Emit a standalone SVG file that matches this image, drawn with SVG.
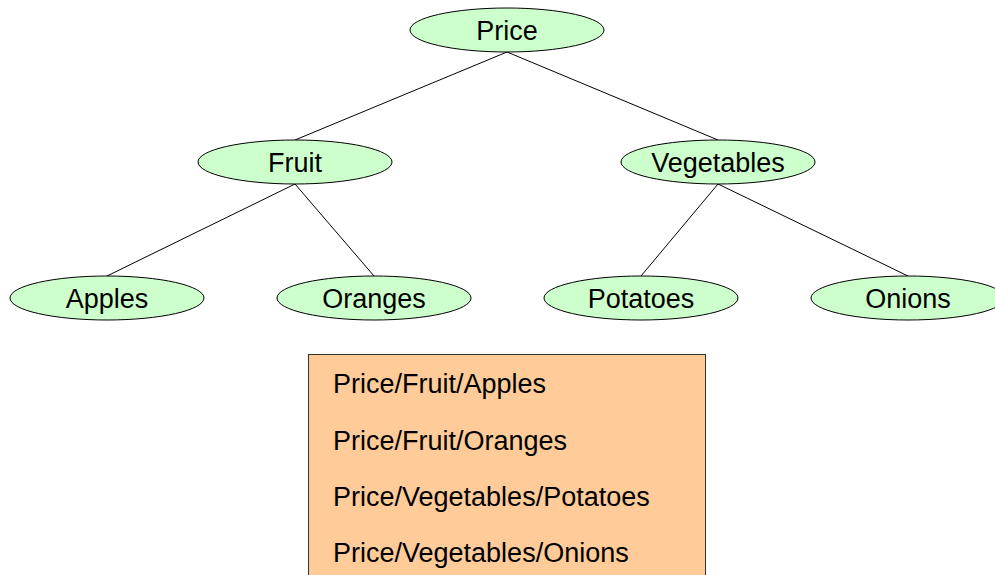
<svg xmlns="http://www.w3.org/2000/svg" width="995" height="575" viewBox="0 0 995 575">
  <style>
    .node ellipse { fill: #ccffcc; stroke: #000; stroke-width: 1; }
    .node text, .paths text { font-family: "Liberation Sans", Arial, sans-serif; font-size: 27px; fill: #000; }
    .node text { text-anchor: middle; }
    .edges line { stroke: #000; stroke-width: 1; }
  </style>
  <rect width="995" height="575" fill="#fff"/>

  <!-- tree connectors -->
  <g id="edges" class="edges">
    <line x1="507" y1="52" x2="295" y2="140"/>
    <line x1="507" y1="52" x2="718" y2="140"/>
    <line x1="295" y1="184" x2="107" y2="276"/>
    <line x1="295" y1="184" x2="374" y2="276"/>
    <line x1="718" y1="184" x2="641" y2="276"/>
    <line x1="718" y1="184" x2="908" y2="276"/>
  </g>

  <g id="price" class="node">
    <ellipse cx="507" cy="30" rx="97" ry="22"/>
    <text x="507" y="39.5">Price</text>
  </g>
  <g id="fruit" class="node">
    <ellipse cx="295" cy="162" rx="97" ry="22"/>
    <text x="295" y="171.5">Fruit</text>
  </g>
  <g id="vegetables" class="node">
    <ellipse cx="718" cy="162" rx="97" ry="22"/>
    <text x="718" y="171.5">Vegetables</text>
  </g>
  <g id="apples" class="node">
    <ellipse cx="107" cy="298" rx="97" ry="22"/>
    <text x="107" y="307.5">Apples</text>
  </g>
  <g id="oranges" class="node">
    <ellipse cx="374" cy="298" rx="97" ry="22"/>
    <text x="374" y="307.5">Oranges</text>
  </g>
  <g id="potatoes" class="node">
    <ellipse cx="641" cy="298" rx="97" ry="22"/>
    <text x="641" y="307.5">Potatoes</text>
  </g>
  <g id="onions" class="node">
    <ellipse cx="908" cy="298" rx="97" ry="22"/>
    <text x="908" y="307.5">Onions</text>
  </g>

  <!-- list of full paths -->
  <g id="paths" class="paths">
    <rect x="308.5" y="354.5" width="397" height="230" fill="#ffcc99" stroke="#333" stroke-width="1"/>
    <text x="333" y="393">Price/Fruit/Apples</text>
    <text x="333" y="450">Price/Fruit/Oranges</text>
    <text x="333" y="506">Price/Vegetables/Potatoes</text>
    <text x="333" y="562">Price/Vegetables/Onions</text>
  </g>
</svg>
